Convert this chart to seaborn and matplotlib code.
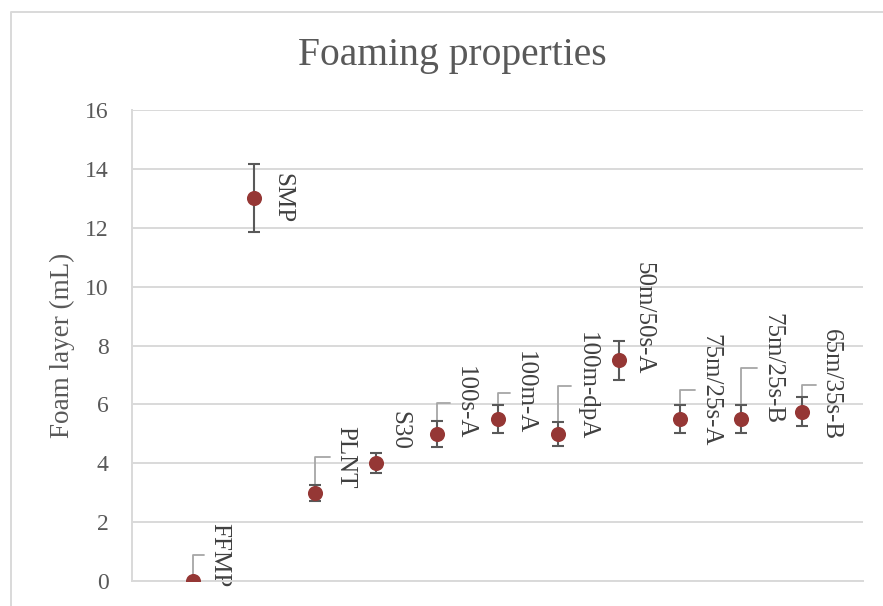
import matplotlib
matplotlib.use("Agg")
import matplotlib.pyplot as plt
from matplotlib.lines import Line2D
import seaborn as sns
import pandas as pd

# Foam layer measurements per sample (mL) with their standard deviations
samples = ["FFMP", "SMP", "PLNT", "S30", "100s-A", "100m-A", "100m-dpA",
           "50m/50s-A", "75m/25s-A", "75m/25s-B", "65m/35s-B"]
sample_no = [1, 2, 3, 4, 5, 6, 7, 8, 9, 10, 11]
foam_ml = [0, 13, 3, 4, 5, 5.5, 5, 7.5, 5.5, 5.5, 5.75]
foam_sd = [0, 1.15, 0.27, 0.34, 0.44, 0.47, 0.41, 0.66, 0.47, 0.47, 0.5]
y_ticks = [0, 2, 4, 6, 8, 10, 12, 14, 16]

# Label placement (pixel offsets from each point) and whether a leader line is drawn
label_dx = [15, 18, 19, 13, 17, 16, 17, 13, 19, 20, 18]
label_dy = [26, 0, 35.5, 32.5, 31, 26.5, 48, 42.5, 29, 51, 27]
label_leader = [True, False, True, False, True, True, True, False, True, True, True]

sns.set_theme(style="white")
plt.rcParams["font.family"] = ["Liberation Serif", "DejaVu Serif"]

df = pd.DataFrame({"sample": samples, "x": sample_no, "foam": foam_ml, "sd": foam_sd})

W, H = 883, 606
fig = plt.figure(figsize=(W / 100, H / 100), dpi=100)
fig.patch.set_facecolor("white")
ax = fig.add_axes([132 / W, (H - 581) / H, (863 - 132) / W, (581 - 110) / H])

grid_c = "#d9d9d9"
text_c = "#595959"

ax.errorbar(df["x"], df["foam"], yerr=df["sd"], fmt="none", ecolor="#595959",
            elinewidth=1.5, capsize=4.2, capthick=1.5, zorder=3)
sns.scatterplot(data=df, x="x", y="foam", ax=ax, s=118, color="#953735",
                edgecolor="#953735", linewidth=0, zorder=4, legend=False)

for i, row in df.iterrows():
    props = None
    if label_leader[i]:
        props = dict(arrowstyle="-", color="#a6a6a6", lw=1.3, shrinkA=0.5, shrinkB=0,
                     relpos=(0, 0.5),
                     connectionstyle="angle,angleA=0,angleB=90,rad=0")
    ax.annotate(row["sample"], xy=(row["x"], row["foam"]),
                xytext=(label_dx[i], label_dy[i]), textcoords="offset pixels",
                rotation=270, ha="left", va="center", fontsize=18,
                color="#404040", arrowprops=props, zorder=2,
                annotation_clip=False)

ax.set_xlim(0, 12)
ax.set_ylim(0, 16)
ax.set_yticks(y_ticks)
ax.set_xticks([])
ax.yaxis.grid(True, color=grid_c, lw=1.4)
ax.set_axisbelow(True)
ax.tick_params(axis="y", length=0, pad=17, labelsize=17, labelcolor=text_c)
for side in ["top", "right"]:
    ax.spines[side].set_visible(False)
for side in ["left", "bottom"]:
    ax.spines[side].set_color(grid_c)
    ax.spines[side].set_linewidth(1.4)
ax.set_xlabel("")
ax.set_ylabel("Foam layer (mL)", fontsize=19.5, color=text_c)
ax.yaxis.label.set_va("center")
ax.yaxis.set_label_coords((62 - 132) / (863 - 132), 0.5)

fig.text(452 / W, 1 - 56 / H, "Foaming properties", ha="center", va="center",
         fontsize=28.5, color=text_c)

# chart frame
fig.add_artist(Line2D([11 / W, 11 / W, 1.0], [0.0, 1 - 12 / H, 1 - 12 / H],
                      transform=fig.transFigure, color=grid_c, lw=1.4))

fig.savefig("out.png", dpi=100)
